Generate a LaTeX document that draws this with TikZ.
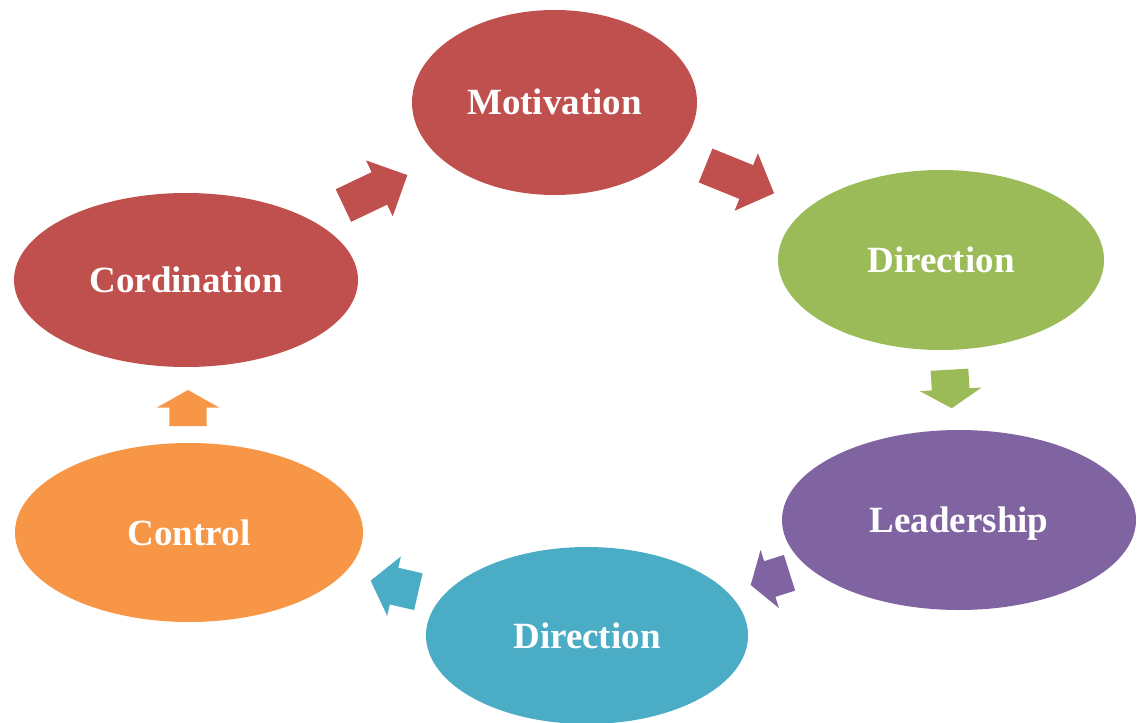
\documentclass[tikz,border=0pt]{standalone}
\usepackage{fontspec}
\setmainfont{Liberation Serif}
\usetikzlibrary{shapes.geometric}

\definecolor{cycred}{HTML}{C0504D}
\definecolor{cycgreen}{HTML}{9BBB59}
\definecolor{cycpurple}{HTML}{8064A2}
\definecolor{cycblue}{HTML}{4BACC6}
\definecolor{cycorange}{HTML}{F79646}

% block arrow: #1 centre, #2 angle, #3 length, #4 head length,
% #5 shaft width, #6 head width, #7 colour
\newcommand\blockarrow[7]{%
  \begin{scope}[shift={#1}, rotate=#2]
    \fill[#7] (-#3/2, #5/2) -- (#3/2-#4, #5/2) -- (#3/2-#4, #6/2)
      -- (#3/2, 0) -- (#3/2-#4, -#6/2) -- (#3/2-#4, -#5/2)
      -- (-#3/2, -#5/2) -- cycle;
  \end{scope}}

\tikzset{
  stage/.style={ellipse, inner sep=0pt, text=white,
    font=\fontsize{37}{44}\selectfont\bfseries,
    text height=25pt, text depth=0pt},
}

\begin{document}
\begin{tikzpicture}[x=1pt, y=-1pt]
  \useasboundingbox (0,0) rectangle (1139,722);

  \node[stage, fill=cycred, minimum width=285pt, minimum height=185pt]
    (motiv) at (554.5,102.5) {Motivation};
  \node[stage, fill=cycgreen, minimum width=326pt, minimum height=180pt]
    (dir1) at (941,260) {Direction};
  \node[stage, fill=cycpurple, minimum width=354pt, minimum height=180pt]
    (lead) at (959,520) {Leadership};
  \node[stage, fill=cycblue, minimum width=322pt, minimum height=177pt]
    (dir2) at (587,635.5) {Direction};
  \node[stage, fill=cycorange, minimum width=348pt, minimum height=179pt]
    (ctrl) at (189,532.5) {Control};
  \node[stage, fill=cycred, minimum width=344pt, minimum height=174pt]
    (cord) at (186,280) {Cordination};

  % arrows between the stages
  \blockarrow{(375.4,190.3)}{25.5}{70.8}{31}{36}{62}{cycred}
  \blockarrow{(739.8,179.4)}{-22.1}{73.9}{30}{36.5}{62}{cycred}
  \blockarrow{(950.6,389)}{-86.7}{38.6}{19}{37.7}{62}{cycgreen}
  \blockarrow{(770.1,578.9)}{197.5}{40.7}{20}{37.4}{61}{cycpurple}
  \blockarrow{(394.5,586.2)}{167}{48.9}{24}{37.7}{61}{cycblue}
  \blockarrow{(188,408)}{90}{36}{17.5}{37.4}{62}{cycorange}
\end{tikzpicture}
\end{document}
